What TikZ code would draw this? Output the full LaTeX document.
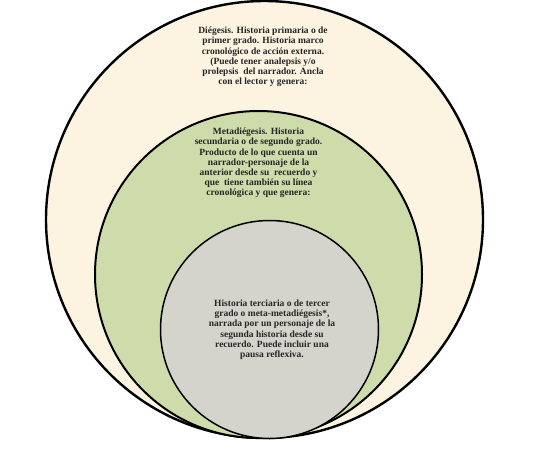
\documentclass[tikz,border=0pt]{standalone}
\usepackage{fontspec}
\setmainfont{Liberation Serif}
\usetikzlibrary{positioning}
\definecolor{parchment}{RGB}{252,243,225}
\definecolor{salvia}{RGB}{205,220,170}
\definecolor{piedra}{RGB}{212,212,204}
\begin{document}
\begin{tikzpicture}[x=1pt,y=-1pt,
        historia/.style={circle,draw=black,inner sep=0pt},
        relato/.style={align=center,anchor=north,inner sep=0pt,text=black!85,
            font=\bfseries\fontsize{9.5}{10.1}\selectfont}]
        \useasboundingbox (0,0) rectangle (538,453);
        % nested levels of the story
        \node[historia, line width=2.4pt, fill=parchment, minimum size=437pt] (diegesis) at (264.5,219.5) {};
        \node[historia, line width=2pt, fill=salvia, minimum size=327pt] (meta) at (258.5,274.5) {};
        \node[historia, line width=1.5pt, fill=piedra, minimum size=218pt] (metameta) at (269.5,329.5) {};
        % texts
        \node[relato] (txtdiegesis) at (263,27) {Diégesis. Historia primaria o de\\
            primer grado. Historia marco\\
            cronológico de acción externa.\\
            (Puede tener analepsis y/o\\
            prolepsis\ \ del narrador. Ancla\\
            con el lector y genera:};
        \node[relato] (txtmeta) at (258.5,128) {Metadiégesis. Historia\\
            secundaria o de segundo grado.\\
            Producto de lo que cuenta un\\
            narrador-personaje de la\\
            anterior desde su\ \ recuerdo y\\
            que\ \ tiene también su línea\\
            cronológica y que genera:};
        \node[relato] (txtmetameta) at (272,300) {Historia terciaria o de tercer\\
            grado o meta-metadiégesis*,\\
            narrada por un personaje de la\\
            segunda historia desde su\\
            recuerdo. Puede incluir una\\
            pausa reflexiva.};
    \end{tikzpicture}
\end{document}
